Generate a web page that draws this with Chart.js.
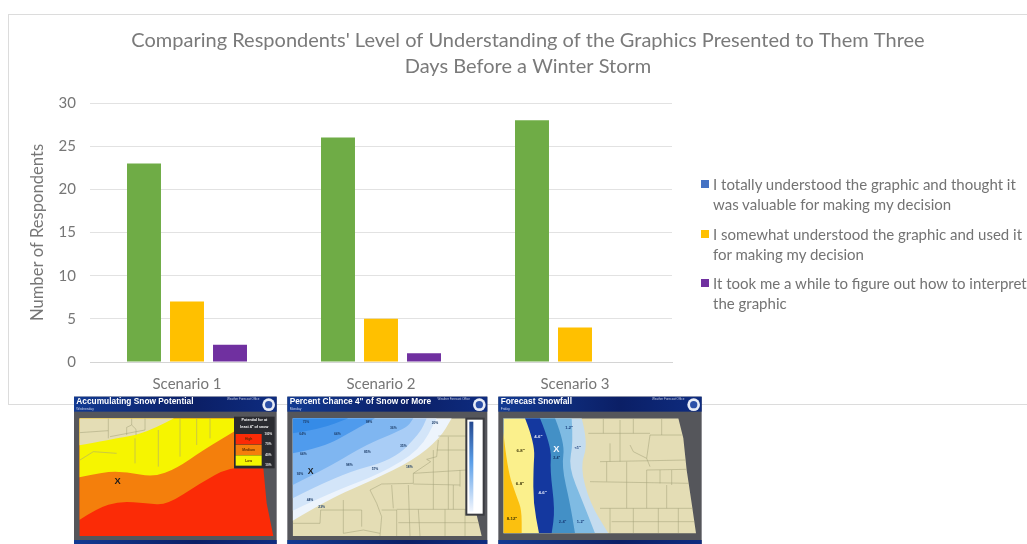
<!DOCTYPE html>
<html>
<head>
<meta charset="utf-8">
<title>Respondents' understanding of winter storm graphics</title>
<script src="https://cdn.jsdelivr.net/npm/chart.js@4"></script>
<style>
  html, body { margin: 0; padding: 0; background: #fff; width: 1027px; height: 544px; overflow: hidden; }
  #card { position: absolute; left: 8px; top: 14px; width: 1040px; height: 389px; border: 1px solid #dcdcdc; }
  #packagesWrap { position: absolute; left: 0; top: 0; width: 1056px; height: 404px; }
  #legend { position: absolute; left: 701px; top: 174px; font: 15px/20px Lato, sans-serif; color: #737373; white-space: nowrap; }
  #legend .item { position: relative; padding-left: 12px; margin-bottom: 9.5px; }
  #legend .swatch { position: absolute; left: 0; top: 6px; width: 8px; height: 8px; }
  #maps { position: absolute; left: 0; top: 0; }
</style>
</head>
<body>
<div id="card"></div>
<div id="packagesWrap"><canvas id="surveyChart" width="1056" height="404"></canvas></div>
<div id="legend"></div>
<canvas id="maps" width="1027" height="544"></canvas>
<script>
// ---- Données ----
const chartTitle = ["Comparing Respondents' Level of Understanding of the Graphics Presented to Them Three", "Days Before a Winter Storm"];
const categories = ["Scenario 1", "Scenario 2", "Scenario 3"];
const seriesNames = [
  ["I totally understood the graphic and thought it", "was valuable for making my decision"],
  ["I somewhat understood the graphic and used it", "for making my decision"],
  ["It took me a while to figure out how to interpret", "the graphic"]
];
const totallyUnderstood = [23, 26, 28];
const somewhatUnderstood = [7, 5, 4];
const tookAWhile = [2, 1, 0];
const barColors = ["#6fac46", "#ffc000", "#7030a0"];
const legendColors = ["#4472c4", "#ffc000", "#7030a0"];

// le titre est centré sur toute la carte, pas seulement sur la zone du graphique
const wideTitle = {
  id: "wideTitle",
  afterLayout(chart) {
    chart.titleBlock.left = 0;
    chart.titleBlock.right = chart.width;
  }
};

// ---- Graphique ----
const textGrey = "#767676";
new Chart(document.getElementById("surveyChart"), {
  type: "bar",
  plugins: [wideTitle],
  data: {
    labels: categories,
    datasets: [totallyUnderstood, somewhatUnderstood, tookAWhile].map((values, i) => ({
      label: seriesNames[i].join(" "),
      data: values,
      backgroundColor: barColors[i],
      categoryPercentage: 0.665,
      barPercentage: 0.79
    }))
  },
  options: {
    responsive: false,
    animation: false,
    layout: { padding: { left: 28, right: 384, top: 28, bottom: 0 } },
    plugins: {
      legend: { display: false },
      tooltip: { enabled: false },
      title: {
        display: true,
        text: chartTitle,
        color: "#7a7a7a",
        font: { family: "Lato", size: 20, weight: "normal", lineHeight: 1.3 },
        padding: { top: 0, bottom: 23 }
      }
    },
    scales: {
      x: {
        afterFit: s => { s.height = 42; },
        grid: { display: false },
        border: { color: "#d4d4d4" },
        ticks: { color: textGrey, font: { family: "Lato", size: 15 }, padding: 5, maxRotation: 0 }
      },
      y: {
        min: 0,
        max: 30,
        afterFit: s => { s.width = 62; },
        grid: { color: "#e2e2e2", drawTicks: false },
        border: { display: false },
        ticks: { stepSize: 5, color: textGrey, font: { family: "Lato", size: 15 }, padding: 14 },
        title: {
          display: true,
          text: "Number of Respondents",
          color: textGrey,
          font: { family: "Lato", size: 16.6 },
          padding: { top: 0, bottom: 6 }
        }
      }
    }
  }
});

// ---- Légende ----
document.getElementById("legend").innerHTML = seriesNames.map((lines, i) => `
  <div class="item">
    <span class="swatch" style="background:${legendColors[i]}"></span>${lines.join("<br>")}
  </div>
`).join("");

// ---- Vignettes des cartes ----
const ctx = document.getElementById("maps").getContext("2d");
const tan = "#e4ddb5";
const countyLine = "#a5a27a";

// courbe lissée à travers une liste de points
function smoothPath(pts) {
  ctx.lineTo(pts[0][0], pts[0][1]);
  for (let i = 1; i < pts.length - 1; i++) {
    const mx = (pts[i][0] + pts[i + 1][0]) / 2, my = (pts[i][1] + pts[i + 1][1]) / 2;
    ctx.quadraticCurveTo(pts[i][0], pts[i][1], mx, my);
  }
  const last = pts[pts.length - 1];
  ctx.lineTo(last[0], last[1]);
}

function fillRegion(color, curve, closing) {
  ctx.beginPath();
  smoothPath(curve);
  closing.forEach(p => ctx.lineTo(p[0], p[1]));
  ctx.closePath();
  ctx.fillStyle = color;
  ctx.fill();
}

function strokeLines(lines) {
  ctx.strokeStyle = countyLine;
  ctx.lineWidth = 1.6;
  lines.forEach(l => {
    ctx.beginPath();
    ctx.moveTo(l[0][0], l[0][1]);
    l.slice(1).forEach(p => ctx.lineTo(p[0], p[1]));
    ctx.stroke();
  });
}

function labels(items, color, size) {
  ctx.fillStyle = color;
  ctx.font = `bold ${size}px "Liberation Sans"`;
  ctx.textAlign = "center";
  ctx.textBaseline = "middle";
  items.forEach(t => ctx.fillText(t[0], t[1], t[2]));
}

// cadre commun, dessiné en coordonnées locales (échelle 3)
function mapFrame(ox, left, right, title, sub, area) {
  ctx.setTransform(1 / 3, 0, 0, 1 / 3, ox, 370);
  ctx.fillStyle = "#55565b";
  ctx.fillRect(left, 80, right - left, 442);
  const head = ctx.createLinearGradient(left, 0, right, 0);
  head.addColorStop(0, "#123a92");
  head.addColorStop(0.6, "#0b1f66");
  head.addColorStop(1, "#0e2c80");
  ctx.fillStyle = head;
  ctx.fillRect(left, 80, right - left, 45);
  ctx.fillRect(left, 510, right - left, 12);
  ctx.fillStyle = "#fff";
  ctx.font = 'bold 25px "Liberation Sans"';
  ctx.textAlign = "left";
  ctx.textBaseline = "middle";
  ctx.fillText(title, left + 7, 96);
  ctx.font = '10px "Liberation Sans"';
  ctx.fillStyle = "#c8cfe6";
  ctx.fillText(sub, left + 7, 117);
  ctx.font = '9px "Liberation Sans"';
  ctx.textAlign = "right";
  ctx.fillText("Weather Forecast Office", right - 52, 87);
  ctx.beginPath();
  ctx.arc(right - 24, 104, 19, 0, Math.PI * 2);
  ctx.fillStyle = "#e8ecf6";
  ctx.fill();
  ctx.beginPath();
  ctx.arc(right - 24, 104, 11, 0, Math.PI * 2);
  ctx.fillStyle = "#2c50a8";
  ctx.fill();
  ctx.save();
  ctx.beginPath();
  area.forEach((p, i) => i ? ctx.lineTo(p[0], p[1]) : ctx.moveTo(p[0], p[1]));
  ctx.closePath();
  ctx.clip();
}

// Scénario 1 : potentiel d'accumulation
mapFrame(60, 42, 650, "Accumulating Snow Potential", "Wednesday",
  [[58, 145], [522, 145], [522, 295], [610, 295], [620, 400], [640, 498], [58, 498]]);
ctx.fillStyle = "#fb2b06";
ctx.fillRect(58, 145, 590, 355);
fillRegion("#f47f0c", [[58, 450], [110, 415], [180, 393], [260, 400], [320, 405], [420, 340], [510, 290], [620, 292]], [[620, 145], [58, 145]]);
fillRegion("#f6f500", [[58, 322], [130, 305], [200, 305], [280, 322], [350, 295], [430, 240], [530, 180]], [[530, 145], [58, 145]]);
fillRegion(tan, [[58, 226], [150, 208], [230, 195], [290, 172], [342, 145]], [[58, 145]]);
strokeLines([
  [[58, 188], [145, 182], [145, 145]], [[145, 205], [145, 182]], [[150, 200], [255, 180], [255, 145]],
  [[200, 195], [200, 172], [215, 165], [228, 178], [228, 195]], [[215, 145], [215, 165]],
  [[60, 270], [100, 245], [170, 250]], [[225, 205], [225, 280]], [[295, 180], [295, 290]], [[360, 145], [360, 260]],
  [[410, 145], [410, 225]], [[450, 145], [450, 205]]
]);
ctx.restore();
labels([["X", 173, 334]], "#1b1b1b", 28);
ctx.fillStyle = "#2a2b30";
ctx.fillRect(522, 140, 122, 155);
ctx.fillStyle = "#fb2b06"; ctx.fillRect(527, 192, 78, 31);
ctx.fillStyle = "#f47f0c"; ctx.fillRect(527, 224, 78, 31);
ctx.fillStyle = "#f6f500"; ctx.fillRect(527, 256, 78, 31);
labels([["Potential for at", 583, 151], ["least 4\" of snow", 583, 170]], "#fff", 11);
labels([["High", 566, 207], ["Medium", 566, 240], ["Low", 566, 272]], "#5a2a00", 10);
labels([["100%", 625, 193], ["70%", 625, 224], ["40%", 625, 255], ["10%", 625, 286]], "#eee", 9);

// Scénario 2 : probabilité de 4 pouces ou plus
mapFrame(280, 22, 622, "Percent Chance 4\" of Snow or More", "Monday",
  [[38, 145], [558, 145], [558, 435], [590, 435], [605, 498], [38, 498]]);
ctx.fillStyle = tan;
ctx.fillRect(38, 145, 570, 355);
const corner = [[38, 145]];
fillRegion("#edf4fc", [[38, 452], [150, 385], [280, 330], [400, 270], [480, 205], [515, 145]], corner);
fillRegion("#d3e5f9", [[38, 422], [160, 365], [300, 312], [420, 240], [470, 145]], corner);
fillRegion("#a9cdf6", [[38, 385], [180, 312], [340, 270], [420, 190], [440, 145]], corner);
fillRegion("#7fb6f1", [[38, 345], [150, 290], [260, 222], [380, 175], [400, 145]], corner);
fillRegion("#4f9bed", [[38, 250], [130, 232], [220, 182], [285, 145]], corner);
fillRegion("#358be7", [[38, 190], [120, 178], [205, 145]], corner);
strokeLines([
  [[475, 210], [470, 260], [440, 268], [452, 275], [400, 310], [400, 340], [305, 342], [270, 360], [290, 400], [305, 440], [300, 498]],
  [[38, 460], [120, 460], [122, 420], [190, 420], [190, 490], [250, 480], [300, 490]], [[190, 390], [190, 420]], [[190, 420], [245, 420], [245, 470]],
  [[305, 420], [350, 420], [350, 498]], [[335, 345], [340, 415]], [[385, 345], [390, 498]], [[350, 418], [600, 418]],
  [[355, 458], [605, 458]], [[415, 418], [420, 498]], [[495, 418], [495, 498]], [[555, 418], [555, 498]],
  [[400, 310], [560, 300]], [[460, 240], [460, 418]], [[505, 200], [505, 418]], [[470, 240], [560, 240]], [[475, 198], [560, 198]],
  [[400, 342], [540, 345]], [[520, 345], [520, 418]], [[540, 300], [540, 350]]
]);
ctx.restore();
labels([["75%", 78, 157], ["64%", 68, 193], ["64%", 172, 193], ["64%", 70, 252], ["92%", 60, 312], ["98%", 267, 157],
  ["36%", 340, 174], ["20%", 465, 158], ["85%", 262, 246], ["35%", 370, 229], ["98%", 208, 284], ["57%", 285, 297],
  ["18%", 388, 291], ["44%", 90, 390], ["23%", 125, 411]], "#1f3f6a", 10);
labels([["X", 92, 306]], "#1b1b1b", 26);
ctx.fillStyle = "#3a3b40"; ctx.fillRect(556, 143, 58, 294);
ctx.fillStyle = "#fff"; ctx.fillRect(562, 149, 46, 282);
const scaleBar = ctx.createLinearGradient(0, 155, 0, 425);
scaleBar.addColorStop(0, "#23478f");
scaleBar.addColorStop(0.45, "#5a9ee8");
scaleBar.addColorStop(1, "#f2f6fd");
ctx.fillStyle = scaleBar; ctx.fillRect(568, 155, 12, 270);

// Scénario 3 : neige prévue
mapFrame(490, 25, 635, "Forecast Snowfall", "Friday",
  [[40, 145], [565, 145], [580, 205], [590, 300], [605, 400], [618, 490], [40, 490]]);
ctx.fillStyle = tan;
ctx.fillRect(40, 145, 585, 350);
const leftSide = [[40, 490], [40, 145]];
fillRegion("#c4dcef", [[275, 145], [295, 220], [270, 290], [300, 400], [355, 490]], leftSide);
fillRegion("#7fbbe3", [[245, 145], [250, 220], [235, 290], [280, 400], [315, 490]], leftSide);
fillRegion("#4390c6", [[195, 145], [225, 220], [215, 290], [240, 400], [255, 490]], leftSide);
fillRegion("#14389f", [[150, 145], [185, 230], [180, 300], [195, 420], [185, 490]], leftSide);
fillRegion("#fbf08c", [[105, 145], [135, 220], [130, 300], [130, 400], [147, 490]], leftSide);
fillRegion("#fbc00f", [[40, 185], [52, 300], [80, 380], [95, 420], [95, 490]], [[40, 490]]);
strokeLines([
  [[340, 145], [340, 190]], [[430, 145], [430, 190]], [[515, 145], [515, 195]], [[295, 190], [480, 190]], [[480, 195], [575, 195]],
  [[390, 150], [390, 275]], [[360, 220], [360, 275]], [[330, 275], [590, 270]], [[420, 225], [430, 245], [470, 265], [480, 290]],
  [[350, 275], [350, 335]], [[300, 335], [600, 340]], [[410, 275], [410, 415]], [[470, 300], [470, 415]], [[510, 300], [510, 340]],
  [[545, 300], [545, 345]], [[470, 300], [590, 298]], [[530, 345], [530, 415]], [[330, 415], [610, 415]], [[360, 415], [360, 490]],
  [[430, 415], [430, 490]], [[505, 415], [505, 490]], [[565, 415], [565, 490]], [[365, 455], [615, 455]], [[480, 195], [470, 265]]
]);
ctx.restore();
labels([["6-8\"", 92, 242], ["6-8\"", 90, 341], ["8-12\"", 66, 447]], "#3a3205", 13);
labels([["4-6\"", 145, 200], ["4-6\"", 158, 367]], "#e9eefc", 13);
labels([["1-2\"", 237, 174], ["2-4\"", 218, 457], ["1-2\"", 272, 457], ["<1\"", 263, 235]], "#173a78", 12);
labels([["2-4\"", 200, 264]], "#12305f", 11);
labels([["X", 199, 238]], "#f4f7ff", 28);
ctx.setTransform(1, 0, 0, 1, 0, 0);
</script>
</body>
</html>
